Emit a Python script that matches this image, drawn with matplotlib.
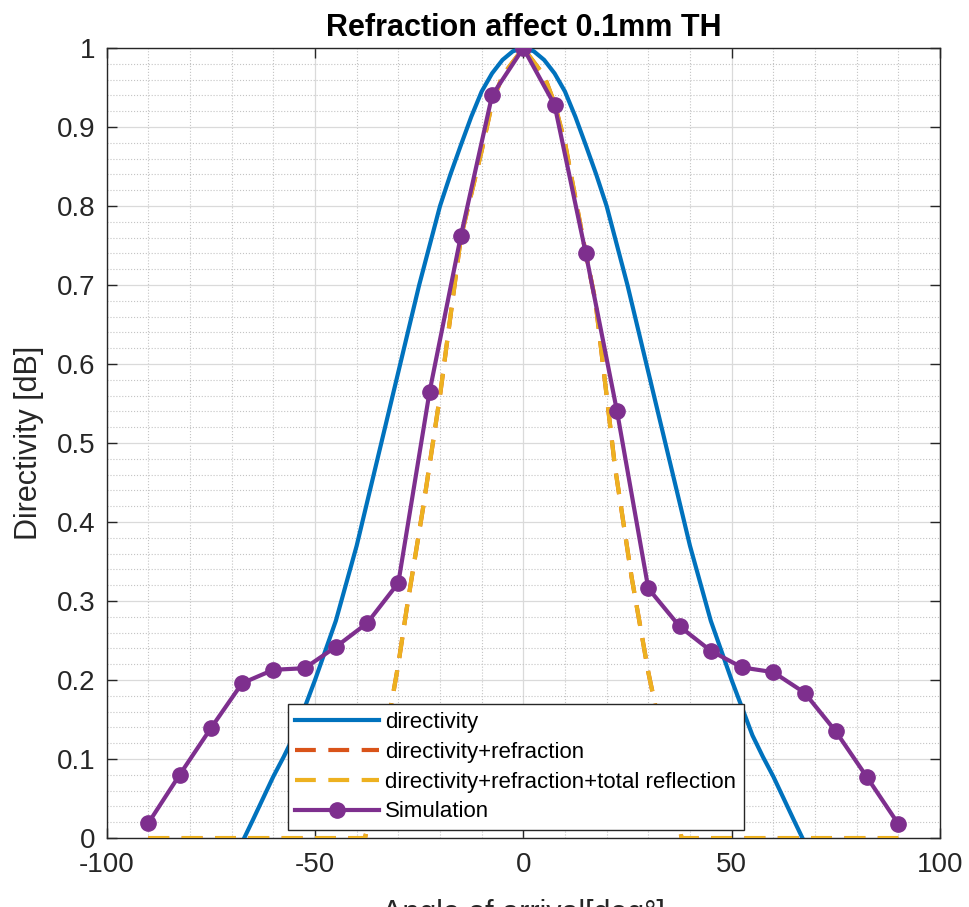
import numpy as np
import matplotlib
matplotlib.use('Agg')
import matplotlib.pyplot as plt
from matplotlib.ticker import MultipleLocator, FormatStrFormatter

plt.rcParams['font.family'] = ['Liberation Sans', 'DejaVu Sans']

# directivity (blue)
dir_x = [-67, -65, -62.5, -60, -57.5, -55, -50, -45, -40, -35, -30, -25, -20, -17.5, -15, -12.5,
         -10, -7.5, -5, -2.5, 0, 2.5, 5, 7.5, 10, 12.5, 15, 17.5, 20, 25, 30, 35, 40, 45, 50,
         55, 57.5, 60, 62.5, 65, 67]
dir_y = [0.0, 0.022, 0.05, 0.078, 0.103, 0.13, 0.20, 0.275, 0.37, 0.48, 0.59, 0.70, 0.80, 0.84, 0.877, 0.913,
         0.945, 0.968, 0.985, 0.996, 1.0, 0.996, 0.985, 0.968, 0.945, 0.913, 0.877, 0.84, 0.80, 0.70, 0.59, 0.48, 0.37, 0.275, 0.20,
         0.13, 0.103, 0.078, 0.05, 0.022, 0.0]

# directivity+refraction (+total reflection)
refr_x = [-90, -38, -36, -34, -32, -30, -28, -26, -24, -22, -20, -17, -15, -10, -7.5, -5, 0,
          5, 7.5, 10, 15, 17.3, 20, 22, 24, 26, 28, 30, 32, 34, 36, 38, 90]
refr_y = [0, 0, 0.05, 0.11, 0.16, 0.22, 0.29, 0.355, 0.42, 0.49, 0.56, 0.68, 0.76, 0.87, 0.93, 0.965, 1.0,
          0.965, 0.93, 0.88, 0.74, 0.68, 0.56, 0.47, 0.40, 0.33, 0.27, 0.21, 0.16, 0.11, 0.05, 0, 0]

# simulation
sim_x = [-90, -82.5, -75, -67.5, -60, -52.5, -45, -37.5, -30, -22.5, -15, -7.5, 0,
         7.5, 15, 22.5, 30, 37.5, 45, 52.5, 60, 67.5, 75, 82.5, 90]
sim_y = [0.019, 0.080, 0.139, 0.196, 0.213, 0.215, 0.242, 0.272, 0.323, 0.565, 0.762, 0.94, 1.0,
         0.928, 0.74, 0.54, 0.316, 0.268, 0.237, 0.216, 0.210, 0.184, 0.135, 0.077, 0.018]

c_blue = (0, 0.447, 0.741)
c_orange = (0.85, 0.325, 0.098)
c_yellow = (0.929, 0.694, 0.125)
c_purple = (0.494, 0.184, 0.556)

fig = plt.figure(figsize=(9.7, 9.07), dpi=100)
ax = fig.add_axes([0.110, 0.076, 0.859, 0.871])

ax.plot(dir_x, dir_y, color=c_blue, lw=3, label='directivity', zorder=3)
ax.plot(refr_x, refr_y, color=c_orange, lw=3, ls='--', dashes=(5, 3),
        label='directivity+refraction', zorder=3)
ax.plot(refr_x, refr_y, color=c_yellow, lw=3, ls='--', dashes=(5, 3),
        label='directivity+refraction+total reflection', zorder=3)
ax.plot(sim_x, sim_y, color=c_purple, lw=3, marker='o', ms=11,
        label='Simulation', zorder=4)

ax.set_xlim(-100, 100)
ax.set_ylim(0, 1)
ax.xaxis.set_major_locator(MultipleLocator(50))
ax.xaxis.set_minor_locator(MultipleLocator(10))
ax.yaxis.set_major_locator(MultipleLocator(0.1))
ax.yaxis.set_minor_locator(MultipleLocator(0.02))
ax.yaxis.set_major_formatter(FormatStrFormatter('%g'))
ax.xaxis.set_major_formatter(FormatStrFormatter('%g'))

ax.grid(which='major', color='#dadada', lw=0.9, ls='-')
ax.grid(which='minor', color='#c4c4c4', lw=0.8, ls=':')
ax.set_axisbelow(True)

ax.tick_params(which='major', direction='in', length=7, width=1, top=True, right=True,
               labelsize=20, colors='#262626')
ax.tick_params(axis='x', pad=10)
ax.tick_params(axis='y', pad=8)
ax.tick_params(which='minor', length=0)
for s in ax.spines.values():
    s.set_color('#262626')
    s.set_linewidth(1)

ax.set_title('Refraction affect 0.1mm TH', fontsize=22, fontweight='bold', pad=9)
ax.set_ylabel('Directivity [dB]', fontsize=22, color='#262626')
ax.set_xlabel('Angle of arrival[deg°]', fontsize=22, color='#262626')
ax.xaxis.set_label_coords(0.5, -0.077)
ax.yaxis.set_label_coords(-0.075, 0.5)

leg = ax.legend(loc='lower left', bbox_to_anchor=(0.217, 0.010), fontsize=16,
                handlelength=3.75, handletextpad=0.3, labelspacing=0.4,
                borderpad=0.35, borderaxespad=0, fancybox=False, framealpha=1,
                edgecolor='#262626')
leg.get_frame().set_linewidth(1)

fig.savefig('out.png', dpi=100)
